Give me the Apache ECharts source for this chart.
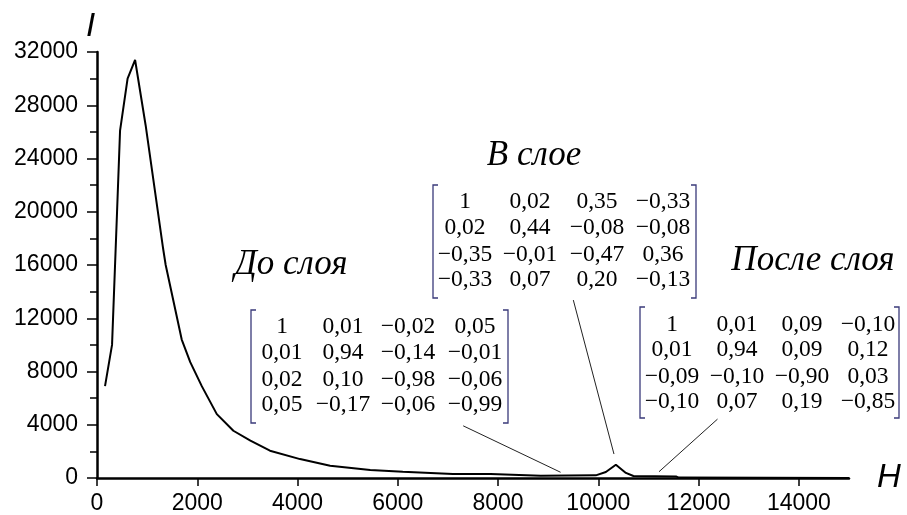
<!DOCTYPE html>
<html><head><meta charset="utf-8">
<script src="https://cdn.jsdelivr.net/npm/echarts@6/dist/echarts.min.js"></script>
<style>html,body{margin:0;padding:0;background:#fff}#c{width:907px;height:515px}</style>
</head><body><div id="c"></div>
<script>
// ---- data ----
const fieldH = [160, 300, 400, 460, 610, 760, 970, 1320, 1370, 1690, 1860, 2090, 2390, 2720, 3060, 3450, 4050, 4650, 5450, 6100, 7100, 7850, 8850, 9950, 10150, 10350, 10550, 10700, 11550, 11600, 15000];
const intensity = [6900, 10000, 20000, 26100, 30000, 31400, 26500, 17200, 16000, 10400, 8700, 6900, 4800, 3550, 2800, 2050, 1420, 920, 600, 470, 300, 300, 170, 200, 450, 1000, 380, 150, 120, 30, 0];
const xTicks = [0, 2000, 4000, 6000, 8000, 10000, 12000, 14000];
const yTicks = [0, 4000, 8000, 12000, 16000, 20000, 24000, 28000, 32000];

const titleBefore = 'До слоя';
const titleIn = 'В слое';
const titleAfter = 'После слоя';
const matBefore = [['1','0,01','−0,02','0,05'],['0,01','0,94','−0,14','−0,01'],['0,02','0,10','−0,98','−0,06'],['0,05','−0,17','−0,06','−0,99']];
const matIn = [['1','0,02','0,35','−0,33'],['0,02','0,44','−0,08','−0,08'],['−0,35','−0,01','−0,47','0,36'],['−0,33','0,07','0,20','−0,13']];
const matAfter = [['1','0,01','0,09','−0,10'],['0,01','0,94','0,09','0,12'],['−0,09','−0,10','−0,90','0,03'],['−0,10','0,07','0,19','−0,85']];

// pointer lines: [start(H,I), end(H,I)]
const pointerBefore = [[7304, 3920], [9247, 430]];
const pointerIn = [[9501, 13366], [10312, 1800]];
const pointerAfter = [[12377, 4423], [11210, 470]];

// ---- layout (pixels) ----
const serif = '"Liberation Serif", "Times New Roman", serif';
const sans = '"Liberation Sans", Arial, sans-serif';
const matLayouts = [
  {m: matBefore, l: 251, r: 508, t: 310, b: 423, cols: [282, 343, 408, 475], rows: [327, 353, 380, 405]},
  {m: matIn, l: 433, r: 696, t: 185, b: 298, cols: [465, 530, 597, 663], rows: [202, 228, 255, 280]},
  {m: matAfter, l: 640, r: 899, t: 307, b: 418, cols: [672, 737, 802, 868], rows: [325, 350, 377, 402]}
];
const titles = [
  {text: titleBefore, x: 291, y: 265},
  {text: titleIn, x: 534, y: 156},
  {text: titleAfter, x: 813, y: 261}
];

const graphics = [];
matLayouts.forEach(L => {
  L.m.forEach((row, i) => row.forEach((v, j) => {
    graphics.push({type: 'text', x: L.cols[j], y: L.rows[i], silent: true,
      style: {text: v, fill: '#000', font: '23.5px ' + serif, align: 'center', verticalAlign: 'middle'}});
  }));
  const s = 5;
  graphics.push({type: 'polyline', silent: true, shape: {points: [[L.l + s, L.t], [L.l, L.t], [L.l, L.b], [L.l + s, L.b]]},
    style: {stroke: '#3a3a7a', lineWidth: 1.3, fill: null}});
  graphics.push({type: 'polyline', silent: true, shape: {points: [[L.r - s, L.t], [L.r, L.t], [L.r, L.b], [L.r - s, L.b]]},
    style: {stroke: '#3a3a7a', lineWidth: 1.3, fill: null}});
});
titles.forEach(T => {
  graphics.push({type: 'text', x: T.x, y: T.y, silent: true,
    style: {text: T.text, fill: '#000', font: 'italic 35px ' + serif, align: 'center', verticalAlign: 'middle'}});
});

const chart = echarts.init(document.getElementById('c'), null, {renderer: 'canvas'});
chart.setOption({
  animation: false,
  backgroundColor: '#fff',
  grid: {left: 97, right: 58, top: 52, bottom: 36, containLabel: false},
  xAxis: {
    type: 'value', min: 0, max: 15000, interval: 2000,
    name: 'H', nameLocation: 'end', nameGap: 28,
    nameTextStyle: {fontFamily: sans, fontStyle: 'italic', fontSize: 33, color: '#000', lineHeight: 33, padding: [0, 0, 28, 0]},
    axisLine: {show: true, onZero: false, lineStyle: {color: '#000', width: 2.5}},
    axisTick: {show: true, inside: false, length: 8, lineStyle: {color: '#000', width: 1.5}},
    minorTick: {show: false},
    axisLabel: {margin: 14, fontFamily: sans, fontSize: 23, color: '#000', showMaxLabel: false,
      formatter: v => xTicks.includes(v) ? String(v) : ''},
    splitLine: {show: false}
  },
  yAxis: {
    type: 'value', min: 0, max: 32000, interval: 4000,
    name: 'I', nameLocation: 'end', nameGap: 9,
    nameTextStyle: {fontFamily: sans, fontStyle: 'italic', fontSize: 33, color: '#000', lineHeight: 33, padding: [0, 13, 0, 0]},
    axisLine: {show: true, onZero: false, lineStyle: {color: '#000', width: 2.5}},
    axisTick: {show: true, inside: false, length: 10, lineStyle: {color: '#000', width: 1.5}},
    minorTick: {show: true, splitNumber: 2, length: 7, lineStyle: {color: '#000', width: 1.5}},
    axisLabel: {margin: 19, fontFamily: sans, fontSize: 23, color: '#000',
      formatter: v => yTicks.includes(v) ? String(v) : ''},
    splitLine: {show: false}
  },
  series: [{
    type: 'line',
    data: fieldH.map((h, i) => [h, intensity[i]]),
    showSymbol: false,
    smooth: false,
    lineStyle: {color: '#000', width: 2},
    silent: true,
    markLine: {
      silent: true, symbol: ['none', 'none'],
      label: {show: false},
      lineStyle: {color: '#222', width: 1, type: 'solid'},
      data: [pointerBefore, pointerIn, pointerAfter].map(p => [{coord: p[0]}, {coord: p[1]}])
    }
  }],
  graphic: graphics
});
</script>
</body></html>
